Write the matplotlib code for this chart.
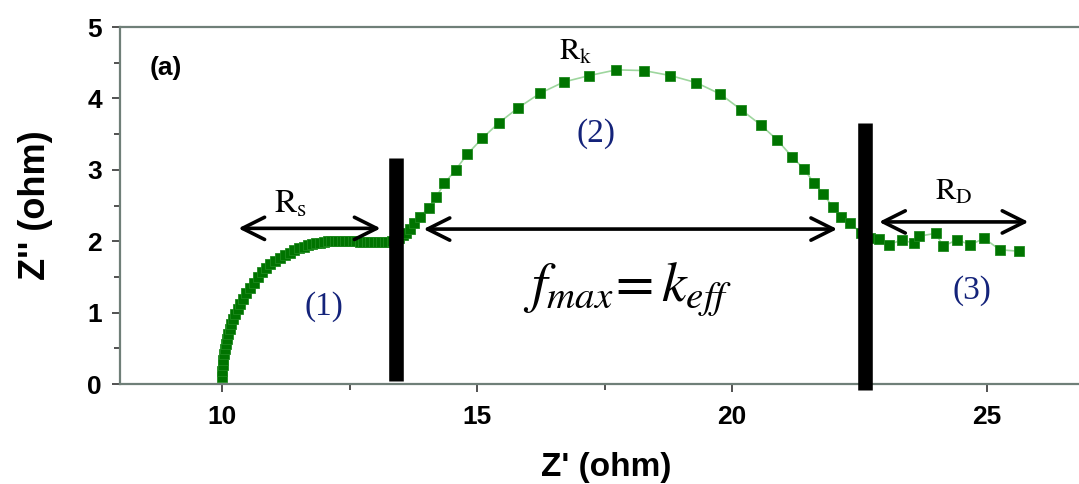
import matplotlib
matplotlib.use('Agg')
import matplotlib.pyplot as plt
from matplotlib.ticker import MultipleLocator

plt.rcParams['mathtext.fontset'] = 'stix'

# impedance data (Z' , Z'')
z_re_1 = [10.00, 10.00, 10.01, 10.02, 10.03, 10.05, 10.07, 10.09, 10.12, 10.15,
          10.18, 10.22, 10.26, 10.31, 10.36, 10.42, 10.48, 10.55, 10.62, 10.70,
          10.78, 10.86, 10.95, 11.04, 11.13, 11.23, 11.33, 11.42, 11.51, 11.60,
          11.68, 11.76, 11.84, 11.92, 12.00, 12.07, 12.14, 12.21, 12.28, 12.35,
          12.42, 12.49, 12.56, 12.63, 12.70, 12.77, 12.84, 12.91, 12.98, 13.05,
          13.12, 13.19, 13.26, 13.33, 13.40]
z_im_1 = [0.10, 0.18, 0.26, 0.34, 0.42, 0.49, 0.56, 0.63, 0.70, 0.77,
          0.84, 0.91, 0.98, 1.05, 1.12, 1.19, 1.27, 1.35, 1.42, 1.50,
          1.57, 1.63, 1.68, 1.72, 1.76, 1.80, 1.84, 1.87, 1.90, 1.92,
          1.94, 1.96, 1.97, 1.98, 1.99, 2.00, 2.00, 2.00, 2.00, 2.00,
          2.00, 2.00, 2.00, 2.00, 1.99, 1.99, 1.99, 1.99, 1.99, 1.99,
          1.99, 1.99, 1.99, 2.00, 2.01]

z_re_2 = [13.47, 13.54, 13.61, 13.68, 13.76, 13.88, 14.05, 14.20, 14.36, 14.58,
          14.81, 15.10, 15.43, 15.81, 16.23, 16.70, 17.20, 17.73, 18.27, 18.79,
          19.30, 19.77, 20.18, 20.56, 20.88, 21.18, 21.41, 21.60, 21.79, 21.97,
          22.14, 22.32, 22.52, 22.70]
z_im_2 = [2.04, 2.08, 2.12, 2.17, 2.26, 2.34, 2.47, 2.62, 2.81, 3.00,
          3.22, 3.44, 3.66, 3.87, 4.07, 4.23, 4.32, 4.40, 4.39, 4.32,
          4.22, 4.06, 3.84, 3.63, 3.42, 3.18, 3.01, 2.82, 2.66, 2.48,
          2.34, 2.26, 2.11, 2.05]

z_re_3 = [22.88, 23.07, 23.33, 23.56, 23.66, 23.99, 24.14, 24.41, 24.67, 24.94, 25.25, 25.62]
z_im_3 = [2.03, 1.95, 2.02, 1.97, 2.07, 2.11, 1.93, 2.02, 1.95, 2.04, 1.88, 1.86]

# region separators (x, y_bottom, y_top)
bar_x = [13.42, 22.61]
bar_bottom = [0.04, -0.08]
bar_top = [3.17, 3.66]

# double arrows (x_start, x_end, y)
arrow_x0 = [10.32, 13.95, 22.88]
arrow_x1 = [13.11, 22.06, 25.81]
arrow_y = [2.18, 2.17, 2.27]

z_re = z_re_1 + z_re_2 + z_re_3
z_im = z_im_1 + z_im_2 + z_im_3

fig = plt.figure(figsize=(10.79, 4.84), dpi=100)
ax = fig.add_axes([0.1112, 0.2066, 0.8888, 0.7376])

ax.plot(z_re, z_im, '-', color='#9ed69e', lw=1.2, zorder=2)
ax.plot(z_re, z_im, 's', color='#007400', mec='#1f8a1f', mew=0.6, ms=6.5, ls='none', zorder=3)

for x, y0, y1 in zip(bar_x, bar_bottom, bar_top):
    ax.plot([x, x], [y0, y1], color='k', lw=10.5, solid_capstyle='butt', zorder=5, clip_on=False)

for x0, x1, y in zip(arrow_x0, arrow_x1, arrow_y):
    ax.annotate('', xy=(x1, y), xytext=(x0, y),
                arrowprops=dict(arrowstyle='<->,head_length=0.8,head_width=0.4',
                                lw=2.6, color='k', shrinkA=0, shrinkB=0,
                                mutation_scale=20), zorder=6)

# labels
ax.text(11.35, 2.53, r'$\mathrm{R}_{\mathrm{s}}$', fontsize=24, ha='center', va='center')
ax.text(16.93, 4.65, r'$\mathrm{R}_{\mathrm{k}}$', fontsize=22, ha='center', va='center')
ax.text(24.34, 2.70, r'$\mathrm{R}_{\mathrm{D}}$', fontsize=22, ha='center', va='center')
navy = '#14237a'
ax.text(11.99, 1.08, '(1)', fontsize=24, family='Liberation Serif', color=navy, ha='center', va='center')
ax.text(17.34, 3.51, '(2)', fontsize=24, family='Liberation Serif', color=navy, ha='center', va='center')
ax.text(24.71, 1.31, '(3)', fontsize=24, family='Liberation Serif', color=navy, ha='center', va='center')
ax.text(17.95, 1.32, r'$f_{max}\!=k_{eff}$', fontsize=40, ha='center', va='center')
ax.text(8.89, 4.43, '(a)', fontsize=19, fontweight='bold', family='Liberation Sans',
        ha='center', va='center')

ax.set_xlim(8.0, 26.8)
ax.set_ylim(0, 5)
ax.xaxis.set_major_locator(MultipleLocator(5))
ax.xaxis.set_minor_locator(MultipleLocator(2.5))
ax.yaxis.set_major_locator(MultipleLocator(1))
ax.yaxis.set_minor_locator(MultipleLocator(0.5))

spine_c = '#6f7f78'
for s in ['left', 'bottom', 'top']:
    ax.spines[s].set_color(spine_c)
    ax.spines[s].set_linewidth(1.6)
ax.spines['right'].set_visible(False)
ax.tick_params(which='both', direction='out', color='#333333', width=1.2, top=False, right=False)
ax.tick_params(which='major', length=6)
ax.tick_params(which='minor', length=4)
ax.tick_params(axis='x', pad=9)
ax.tick_params(axis='y', pad=7)

for lab in ax.get_xticklabels() + ax.get_yticklabels():
    lab.set_family('Liberation Sans')
    lab.set_fontweight('bold')
    lab.set_fontsize(19)

ax.set_xlabel("Z' (ohm)", fontsize=24, fontweight='bold', family='Liberation Sans')
ax.set_ylabel("Z'' (ohm)", fontsize=26, fontweight='bold', family='Liberation Sans')
ax.xaxis.set_label_coords(0.507, -0.19)
ax.yaxis.set_label_coords(-0.07, 0.5)

fig.savefig('out.png', dpi=100)
